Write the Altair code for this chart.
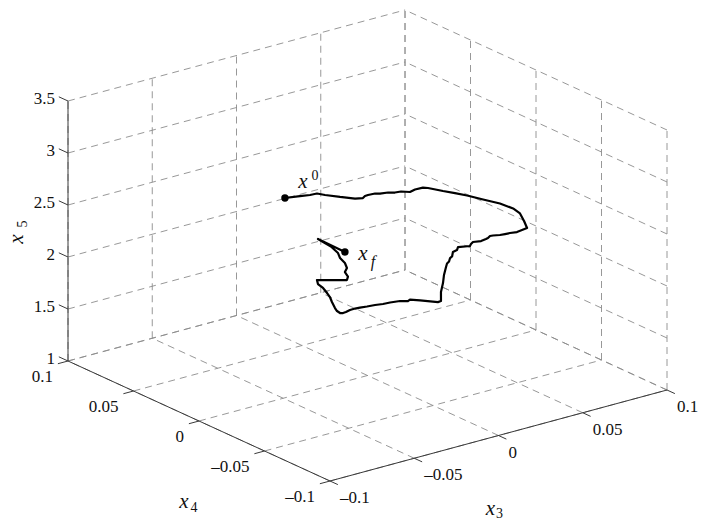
import altair as alt
import pandas as pd

# ---------------- data ----------------
X3_TICKS = [-0.1, -0.05, 0.0, 0.05, 0.1]
X4_TICKS = [-0.1, -0.05, 0.0, 0.05, 0.1]
X5_TICKS = [1.0, 1.5, 2.0, 2.5, 3.0, 3.5]
X3_LABELS = ["\u20130.1", "\u20130.05", "0", "0.05", "0.1"]
X4_LABELS = ["\u20130.1", "\u20130.05", "0", "0.05", "0.1"]
X5_LABELS = ["1", "1.5", "2", "2.5", "3", "3.5"]

X3_RANGE = [-0.1, 0.1]
X4_RANGE = [-0.1, 0.1]
X5_RANGE = [1.0, 3.5]

# trajectory (read in the x4 = 0 plane)
TRAJ_X4 = 0.0
TRAJ_X3 = [
    -0.0490, -0.0401, -0.0341, -0.0300, -0.0252, -0.0163, -0.0074, -0.0027, -0.0015, 0.0003,
    0.0045, 0.0074, 0.0122, 0.0163, 0.0199, 0.0252, 0.0282, 0.0329, 0.0359, 0.0448,
    0.0519, 0.0591, 0.0686, 0.0786, 0.0864, 0.0905, 0.0929, 0.0947, 0.0917, 0.0887,
    0.0846, 0.0816, 0.0786, 0.0745, 0.0727, 0.0715, 0.0703, 0.0674, 0.0626, 0.0614,
    0.0608, 0.0537, 0.0531, 0.0507, 0.0502, 0.0490, 0.0484, 0.0472, 0.0466, 0.0454,
    0.0448, 0.0436, 0.0436, 0.0418, 0.0312, 0.0252, 0.0240, 0.0193, 0.0134, 0.0092,
    0.0045, -0.0003, -0.0045, -0.0074, -0.0104, -0.0128, -0.0145, -0.0163, -0.0181, -0.0193,
    -0.0211, -0.0223, -0.0240, -0.0264, -0.0294, -0.0300, -0.0122, -0.0116, -0.0134, -0.0122,
    -0.0134, -0.0163, -0.0175, -0.0217, -0.0294, -0.0134,
]
TRAJ_X5 = [
    2.921, 2.901, 2.885, 2.881, 2.846, 2.788, 2.734, 2.718, 2.732, 2.734,
    2.730, 2.717, 2.706, 2.688, 2.682, 2.654, 2.665, 2.663, 2.646, 2.578,
    2.527, 2.472, 2.392, 2.310, 2.228, 2.162, 2.079, 2.004, 1.998, 1.991,
    2.000, 2.003, 2.007, 2.020, 2.023, 2.009, 2.005, 1.998, 2.010, 1.995,
    1.979, 2.000, 1.974, 1.965, 1.925, 1.915, 1.884, 1.870, 1.839, 1.768,
    1.693, 1.612, 1.525, 1.523, 1.585, 1.620, 1.611, 1.632, 1.643, 1.647,
    1.658, 1.665, 1.673, 1.676, 1.675, 1.666, 1.664, 1.672, 1.699, 1.733,
    1.799, 1.852, 1.898, 1.957, 2.008, 2.049, 1.971, 2.002, 2.053, 2.087,
    2.140, 2.201, 2.254, 2.335, 2.441, 2.246,
]

# ---------------- view (3-D projection, layout only) ----------------
W, H = 702, 520
ORIGIN = (330.0, 481.0)   # screen point of (x3 min, x4 min, x5 min)
E3 = (337.0, -91.0)       # screen displacement across the full x3 range
E4 = (-262.0, -120.0)     # across the full x4 range
E5 = (0.0, -260.0)        # across the full x5 range


def proj(x3, x4, x5):
    a = (x3 - X3_RANGE[0]) / (X3_RANGE[1] - X3_RANGE[0])
    b = (x4 - X4_RANGE[0]) / (X4_RANGE[1] - X4_RANGE[0])
    c = (x5 - X5_RANGE[0]) / (X5_RANGE[1] - X5_RANGE[0])
    px = ORIGIN[0] + a * E3[0] + b * E4[0] + c * E5[0]
    py = ORIGIN[1] + a * E3[1] + b * E4[1] + c * E5[1]
    return px, py


def seg(p, q):
    x, y = proj(*p)
    x2, y2 = proj(*q)
    return {"x": x, "y": y, "x2": x2, "y2": y2}


x3lo, x3hi = X3_RANGE
x4lo, x4hi = X4_RANGE
x5lo, x5hi = X5_RANGE

grid = []
for t in X3_TICKS:
    grid.append(seg((t, x4lo, x5lo), (t, x4hi, x5lo)))      # floor
    grid.append(seg((t, x4hi, x5lo), (t, x4hi, x5hi)))      # back wall x4 = max
for s in X4_TICKS:
    grid.append(seg((x3lo, s, x5lo), (x3hi, s, x5lo)))      # floor
    grid.append(seg((x3hi, s, x5lo), (x3hi, s, x5hi)))      # back wall x3 = max
for z in X5_TICKS:
    grid.append(seg((x3lo, x4hi, z), (x3hi, x4hi, z)))
    grid.append(seg((x3hi, x4lo, z), (x3hi, x4hi, z)))
grid_df = pd.DataFrame(grid)

axes_df = pd.DataFrame([
    seg((x3lo, x4lo, x5lo), (x3hi, x4lo, x5lo)),
    seg((x3lo, x4lo, x5lo), (x3lo, x4hi, x5lo)),
    seg((x3lo, x4hi, x5lo), (x3lo, x4hi, x5hi)),
])

ticks = []
for t in X3_TICKS:
    ticks.append(seg((t, x4lo, x5lo), (t, x4lo - 0.006, x5lo)))
for s in X4_TICKS:
    ticks.append(seg((x3lo, s, x5lo), (x3lo - 0.006, s, x5lo)))
for z in X5_TICKS:
    ticks.append(seg((x3lo, x4hi, z), (x3lo, x4hi + 0.007, z)))
ticks_df = pd.DataFrame(ticks)


def label_df(points, labels):
    rows = []
    for p, lab in zip(points, labels):
        x, y = proj(*p)
        rows.append({"x": x, "y": y, "label": lab})
    return pd.DataFrame(rows)


lab3 = label_df([(t, x4lo, x5lo) for t in X3_TICKS], X3_LABELS)
lab4 = label_df([(x3lo, s, x5lo) for s in X4_TICKS], X4_LABELS)
lab5 = label_df([(x3lo, x4hi, z) for z in X5_TICKS], X5_LABELS)

traj_rows = []
for i, (a, c) in enumerate(zip(TRAJ_X3, TRAJ_X5)):
    x, y = proj(a, TRAJ_X4, c)
    traj_rows.append({"i": i, "x": x, "y": y})
traj_df = pd.DataFrame(traj_rows)
start_df = traj_df.iloc[[0]]
end_df = traj_df.iloc[[-1]]

# anchors for axis titles
t3x, t3y = proj(0.0, x4lo, x5lo)
t4x, t4y = proj(x3lo, 0.0, x5lo)
t5x, t5y = proj(x3lo, x4hi, 2.25)
t3_df = pd.DataFrame([{"x": t3x, "y": t3y}])
t4_df = pd.DataFrame([{"x": t4x, "y": t4y}])
t5_df = pd.DataFrame([{"x": t5x, "y": t5y}])

# ---------------- chart ----------------
XS = alt.Scale(domain=[0, W], nice=False, zero=False)
YS = alt.Scale(domain=[0, H], nice=False, zero=False, reverse=True)
X = alt.X("x:Q", scale=XS, axis=None)
Y = alt.Y("y:Q", scale=YS, axis=None)

FONT = "Liberation Serif, Times New Roman, DejaVu Serif, serif"

grid_layer = alt.Chart(grid_df).mark_rule(
    color="#8c8c8c", strokeWidth=0.9, strokeDash=[7, 5]
).encode(x=X, y=Y, x2="x2:Q", y2="y2:Q")

axes_layer = alt.Chart(axes_df).mark_rule(color="#3a3a3a", strokeWidth=1).encode(
    x=X, y=Y, x2="x2:Q", y2="y2:Q"
)
ticks_layer = alt.Chart(ticks_df).mark_rule(color="#3a3a3a", strokeWidth=1).encode(
    x=X, y=Y, x2="x2:Q", y2="y2:Q"
)

lab5_layer = alt.Chart(lab5).mark_text(
    align="right", baseline="middle", dx=-13, dy=-2, font=FONT, fontSize=17, color="#111"
).encode(x=X, y=Y, text="label:N")
lab4_layer = alt.Chart(lab4).mark_text(
    align="right", baseline="middle", dx=-15, dy=16, font=FONT, fontSize=17, color="#111"
).encode(x=X, y=Y, text="label:N")
lab3_layer = alt.Chart(lab3).mark_text(
    align="left", baseline="middle", dx=10, dy=17, font=FONT, fontSize=17, color="#111"
).encode(x=X, y=Y, text="label:N")


def math_text(df, txt, dx, dy, italic=True, size=21, angle=0):
    kw = dict(align="center", baseline="middle", dx=dx, dy=dy, font=FONT,
              fontSize=size, color="#111", text=txt)
    if italic:
        kw["fontStyle"] = "italic"
    if angle:
        kw["angle"] = angle
    return alt.Chart(df).mark_text(**kw).encode(x=X, y=Y)


titles = [
    math_text(t3_df, "x", -8, 73),
    math_text(t3_df, "3", 1, 78, italic=False, size=14),
    math_text(t4_df, "x", -15, 81),
    math_text(t4_df, "4", -5, 87, italic=False, size=14),
    math_text(t5_df, "x", -8, -51, angle=270),
    math_text(t5_df, "5", 7, -45, italic=False, size=14, angle=270),
    math_text(start_df, "x", 18, -16),
    math_text(start_df, "0", 30, -22, italic=False, size=14),
    math_text(end_df, "x", 18, 2),
    math_text(end_df, "f", 28, 10, size=16),
]

traj_layer = alt.Chart(traj_df).mark_line(
    color="#000", strokeWidth=2.2, strokeJoin="round"
).encode(x=X, y=Y, order="i:Q")

markers = alt.Chart(pd.concat([start_df, end_df])).mark_circle(
    color="#000", size=55, opacity=1
).encode(x=X, y=Y)

chart = alt.layer(
    grid_layer, axes_layer, ticks_layer, lab5_layer, lab4_layer, lab3_layer,
    traj_layer, markers, *titles
).properties(
    width=W, height=H, padding=0, autosize="none", background="white"
).configure_view(stroke=None)

chart.save("out.html", embed_options={"renderer": "svg", "actions": False})
